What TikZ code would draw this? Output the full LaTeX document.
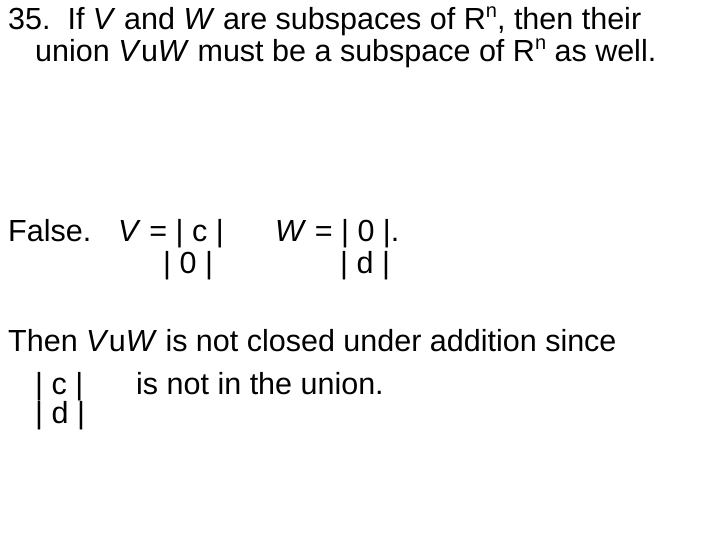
\documentclass[tikz,border=0pt]{standalone}
\usepackage{fontspec}
\setmainfont{Liberation Sans}
\begin{document}
\begin{tikzpicture}[x=1pt,y=-1pt,txt/.style={anchor=base west,inner sep=0pt,font=\fontsize{30.5}{34}\selectfont}]
\useasboundingbox (0,0) rectangle (720,540);
\newcommand{\rn}{R\raisebox{0.4em}{\fontsize{20}{20}\selectfont n}}
\node[txt] (l1) at (8,30) {35.\ \ If \textit{V} and \textit{W} are subspaces of \rn, then their};
\node[txt] (l2) at (35,62) {union \textit{V}u\textit{W} must be a subspace of \rn\ as well.};
\node[txt] (f) at (8,241) {False.};
\node[txt] (v) at (118,241) {\textit{V} = | c |};
\node[txt] (v2) at (163,273) {| 0 |};
\node[txt] (w) at (275,241) {\textit{W} = | 0 |.};
\node[txt] (w2) at (340,273) {| d |};
\node[txt] (t1) at (8,351) {Then \textit{V}u\textit{W} is not closed under addition since};
\node[txt] (t2) at (35,394) {| c |};
\node[txt] (t2b) at (136,394) {is not in the union.};
\node[txt] (t3) at (35,423) {| d |};
\end{tikzpicture}
\end{document}
